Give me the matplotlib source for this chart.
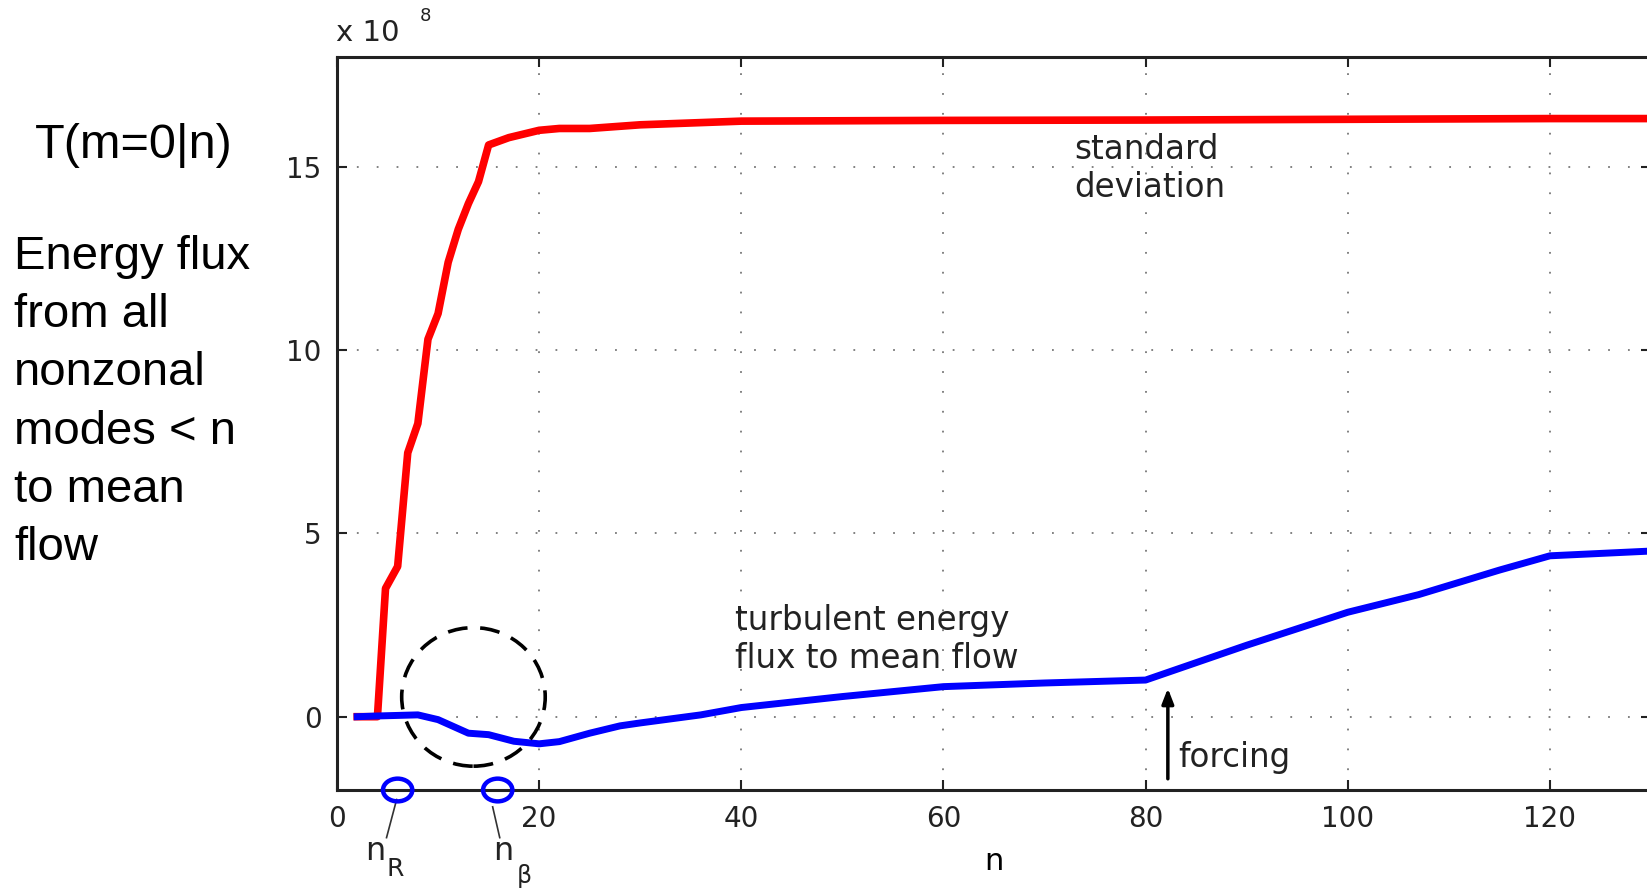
import matplotlib
matplotlib.use("Agg")
import matplotlib.pyplot as plt
from matplotlib.patches import Ellipse

# ---- data (values in units of 1e8) ----
n_std = [2, 4, 4.8, 6, 7, 8, 9, 10, 11, 12, 13, 14, 15, 17, 20, 22, 25, 30, 40, 60, 80, 100, 120, 130]
std_dev = [0, 0, 3.5, 4.1, 7.2, 8.0, 10.3, 11.0, 12.4, 13.3, 14.0, 14.6, 15.6, 15.8, 16.0, 16.05, 16.05,
           16.15, 16.25, 16.27, 16.28, 16.3, 16.32, 16.32]

n_flux = [2, 4, 8, 10, 13, 15, 17.5, 20, 22, 25, 28, 30, 36, 40, 50, 60, 70, 80, 90, 100, 107, 115, 120, 130]
flux = [0, 0.02, 0.05, -0.08, -0.45, -0.49, -0.67, -0.74, -0.68, -0.45, -0.25, -0.17, 0.05, 0.25, 0.55,
        0.82, 0.92, 1.0, 1.95, 2.85, 3.33, 4.0, 4.39, 4.52]

x_ticks = [0, 20, 40, 60, 80, 100, 120]
y_ticks = [0, 5, 10, 15]
n_R, n_beta = 6.0, 15.9
forcing_n = 82.2

W, H = 1647, 891
fig = plt.figure(figsize=(W / 100, H / 100), dpi=100)
ax = fig.add_axes([337 / W, 101 / H, 1314 / W, 733 / H])

ax.plot(n_std, std_dev, color="#ff0000", lw=5.5, solid_joinstyle="round", zorder=3)
ax.plot(n_flux, flux, color="#0000ff", lw=5.0, solid_joinstyle="round", zorder=3)

ax.set_xlim(0, 130)
ax.set_ylim(-2, 18)
ax.set_xticks(x_ticks)
ax.set_yticks(y_ticks)
ax.grid(True, color="#777777", linestyle=(0, (1, 10)), linewidth=1.3)
ax.tick_params(direction="in", length=7, width=1.5, top=True, right=True,
               labelsize=20, pad=11, colors="#222222")
for lab in ax.get_xticklabels() + ax.get_yticklabels():
    lab.set_fontfamily("DejaVu Sans")
for s in ax.spines.values():
    s.set_linewidth(2.2)
    s.set_color("#222222")

ax.set_xlabel("n", fontsize=22, family="DejaVu Sans", labelpad=10)

# exponent label
fig.text(336 / W, 1 - 33 / H, "x 10", fontsize=21, family="DejaVu Sans", va="center", ha="left",
         color="#222222")
fig.text(420 / W, 1 - 16 / H, "8", fontsize=13, family="DejaVu Sans", va="center", ha="left",
         color="#222222")

# dashed circle highlighting
ax.add_patch(Ellipse((13.5, 0.54), 14.2, 3.78, fill=False, edgecolor="black", lw=2.6,
                     linestyle=(0, (5.5, 3.5)), zorder=4))

# n_R and n_beta markers on the axis
for nn in (n_R, n_beta):
    ax.add_patch(Ellipse((nn, -2), 2.9, 0.62, fill=False, edgecolor="#0000ff", lw=3.2,
                         clip_on=False, zorder=5))
ax.plot([5.9, 4.9], [-2.26, -3.30], color="#333333", lw=1.2, clip_on=False)
ax.plot([15.4, 16.1], [-2.46, -3.30], color="#333333", lw=1.2, clip_on=False)

ax.text(2.8, -3.68, "n", fontsize=23, family="DejaVu Sans", ha="left", va="center", color="#222222")
ax.text(4.9, -4.15, "R", fontsize=18, family="DejaVu Sans", ha="left", va="center", color="#222222")
ax.text(15.4, -3.68, "n", fontsize=23, family="DejaVu Sans", ha="left", va="center", color="#222222")
ax.text(17.8, -4.35, "β", fontsize=17, family="DejaVu Sans", ha="left", va="center", color="#222222")

# annotations
ax.text(72.9, 14.95, "standard\ndeviation", fontsize=23.5, family="DejaVu Sans", ha="left",
        va="center", linespacing=1.2, color="#222222")
ax.text(39.4, 2.1, "turbulent energy\nflux to mean flow", fontsize=23.5, family="DejaVu Sans",
        ha="left", va="center", linespacing=1.2, color="#222222")
ax.annotate("", xy=(forcing_n, 0.85), xytext=(forcing_n, -1.77),
            arrowprops=dict(arrowstyle="-|>,head_length=0.9,head_width=0.35", color="black", lw=2.5))
ax.text(83.2, -1.1, "forcing", fontsize=23.5, family="DejaVu Sans", ha="left", va="center",
        color="#222222")

# left-side explanatory text
fig.text(35 / W, 1 - 145 / H, "T(m=0|n)", fontsize=35, family="Liberation Sans", ha="left",
         va="center")
left_lines = ["Energy flux", "from all", "nonzonal", "modes < n", "to mean", "flow"]
for i, line in enumerate(left_lines):
    fig.text(14 / W, 1 - (257 + 58.2 * i) / H, line, fontsize=34, family="Liberation Sans",
             ha="left", va="center")

fig.savefig("out.png", dpi=100)
